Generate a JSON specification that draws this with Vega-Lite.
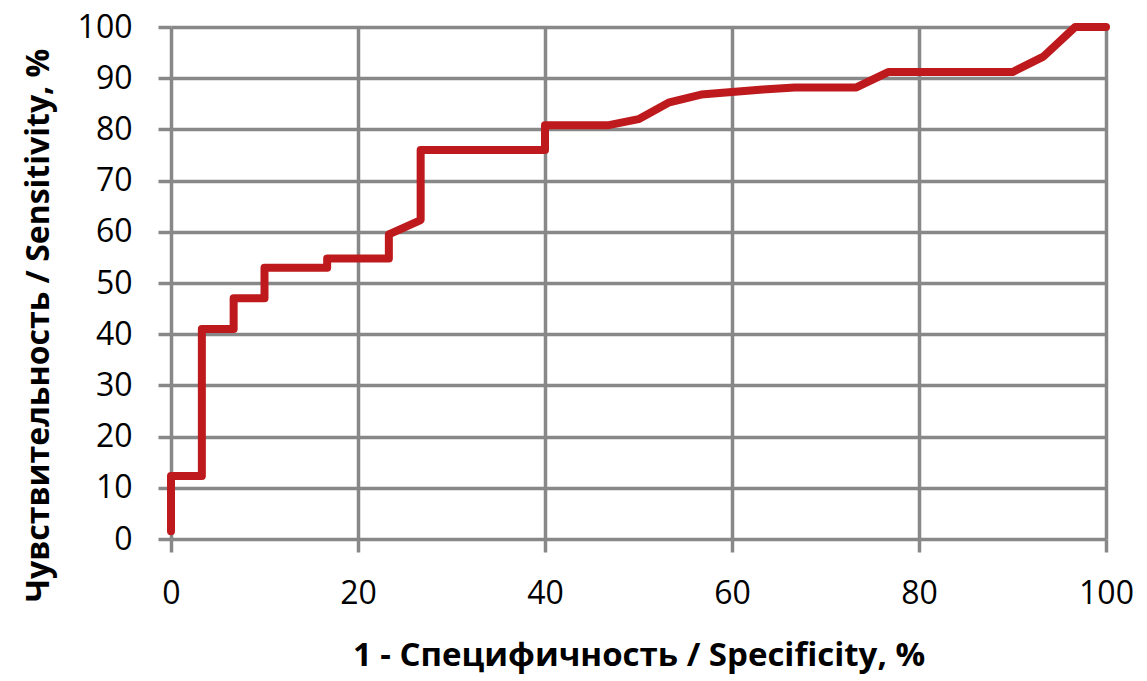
{
  "$schema": "https://vega.github.io/schema/vega-lite/v6.json",
  "autosize": "none",
  "padding": {"left": 171, "top": 27, "right": 41, "bottom": 142},
  "width": 935,
  "height": 512,
  "background": "white",
  "config": {
    "view": {"stroke": null},
    "font": "Open Sans"
  },
  "data": {
    "values": [
      {"i": 0, "fpr": 0, "tpr": 1.5},
      {"i": 1, "fpr": 0, "tpr": 12.3},
      {"i": 2, "fpr": 3.3, "tpr": 12.3},
      {"i": 3, "fpr": 3.3, "tpr": 41},
      {"i": 4, "fpr": 6.7, "tpr": 41},
      {"i": 5, "fpr": 6.7, "tpr": 47},
      {"i": 6, "fpr": 10, "tpr": 47},
      {"i": 7, "fpr": 10, "tpr": 53},
      {"i": 8, "fpr": 16.7, "tpr": 53},
      {"i": 9, "fpr": 16.7, "tpr": 54.8},
      {"i": 10, "fpr": 23.3, "tpr": 54.8},
      {"i": 11, "fpr": 23.3, "tpr": 59.5},
      {"i": 12, "fpr": 26.7, "tpr": 62.3},
      {"i": 13, "fpr": 26.7, "tpr": 76},
      {"i": 14, "fpr": 40, "tpr": 76},
      {"i": 15, "fpr": 40, "tpr": 80.8},
      {"i": 16, "fpr": 46.7, "tpr": 80.8},
      {"i": 17, "fpr": 50, "tpr": 82},
      {"i": 18, "fpr": 53.3, "tpr": 85.3},
      {"i": 19, "fpr": 56.7, "tpr": 86.8},
      {"i": 20, "fpr": 60, "tpr": 87.3},
      {"i": 21, "fpr": 63.3, "tpr": 87.8},
      {"i": 22, "fpr": 66.7, "tpr": 88.2},
      {"i": 23, "fpr": 73.3, "tpr": 88.2},
      {"i": 24, "fpr": 76.7, "tpr": 91.2},
      {"i": 25, "fpr": 90, "tpr": 91.2},
      {"i": 26, "fpr": 93.3, "tpr": 94.2},
      {"i": 27, "fpr": 96.7, "tpr": 100},
      {"i": 28, "fpr": 100, "tpr": 100}
    ]
  },
  "mark": {"type": "line", "color": "#BE1A1D", "strokeWidth": 8, "strokeJoin": "round", "strokeCap": "round", "clip": false},
  "encoding": {
    "order": {"field": "i", "type": "quantitative"},
    "x": {
      "field": "fpr",
      "type": "quantitative",
      "scale": {"domain": [0, 100], "nice": false, "zero": true},
      "axis": {
        "values": [0, 20, 40, 60, 80, 100],
        "title": "1 - Специфичность / Specificity, %",
        "titleFont": "Open Sans",
        "titleFontWeight": "bold",
        "titleFontSize": 33,
        "titleColor": "black",
        "titleBaseline": "alphabetic",
        "titleY": 126,
        "titlePadding": 0,
        "labelFont": "Open Sans",
        "labelFontSize": 32,
        "labelColor": "black",
        "labelBaseline": "alphabetic",
        "labelPadding": 51,
        "labelFlush": false,
        "tickSize": 13,
        "tickWidth": 3.5,
        "tickColor": "#888888",
        "domain": false,
        "grid": true,
        "gridColor": "#888888",
        "gridWidth": 3.5,
        "gridOpacity": 1
      }
    },
    "y": {
      "field": "tpr",
      "type": "quantitative",
      "scale": {"domain": [0, 100], "nice": false},
      "axis": {
        "values": [0, 10, 20, 30, 40, 50, 60, 70, 80, 90, 100],
        "title": "Чувствительность / Sensitivity, %",
        "titleFont": "Open Sans",
        "titleFontWeight": "bold",
        "titleFontSize": 32,
        "titleColor": "black",
        "titleBaseline": "alphabetic",
        "titleAngle": -90,
        "titleAlign": "center",
        "titleX": -123,
        "titleY": 298,
        "labelFont": "Open Sans",
        "labelFontSize": 32,
        "labelColor": "black",
        "labelBaseline": "middle",
        "labelPadding": 26,
        "labelFlush": false,
        "tickSize": 13,
        "tickWidth": 3.5,
        "tickColor": "#888888",
        "domain": false,
        "grid": true,
        "gridColor": "#888888",
        "gridWidth": 3.5,
        "gridOpacity": 1
      }
    }
  }
}
